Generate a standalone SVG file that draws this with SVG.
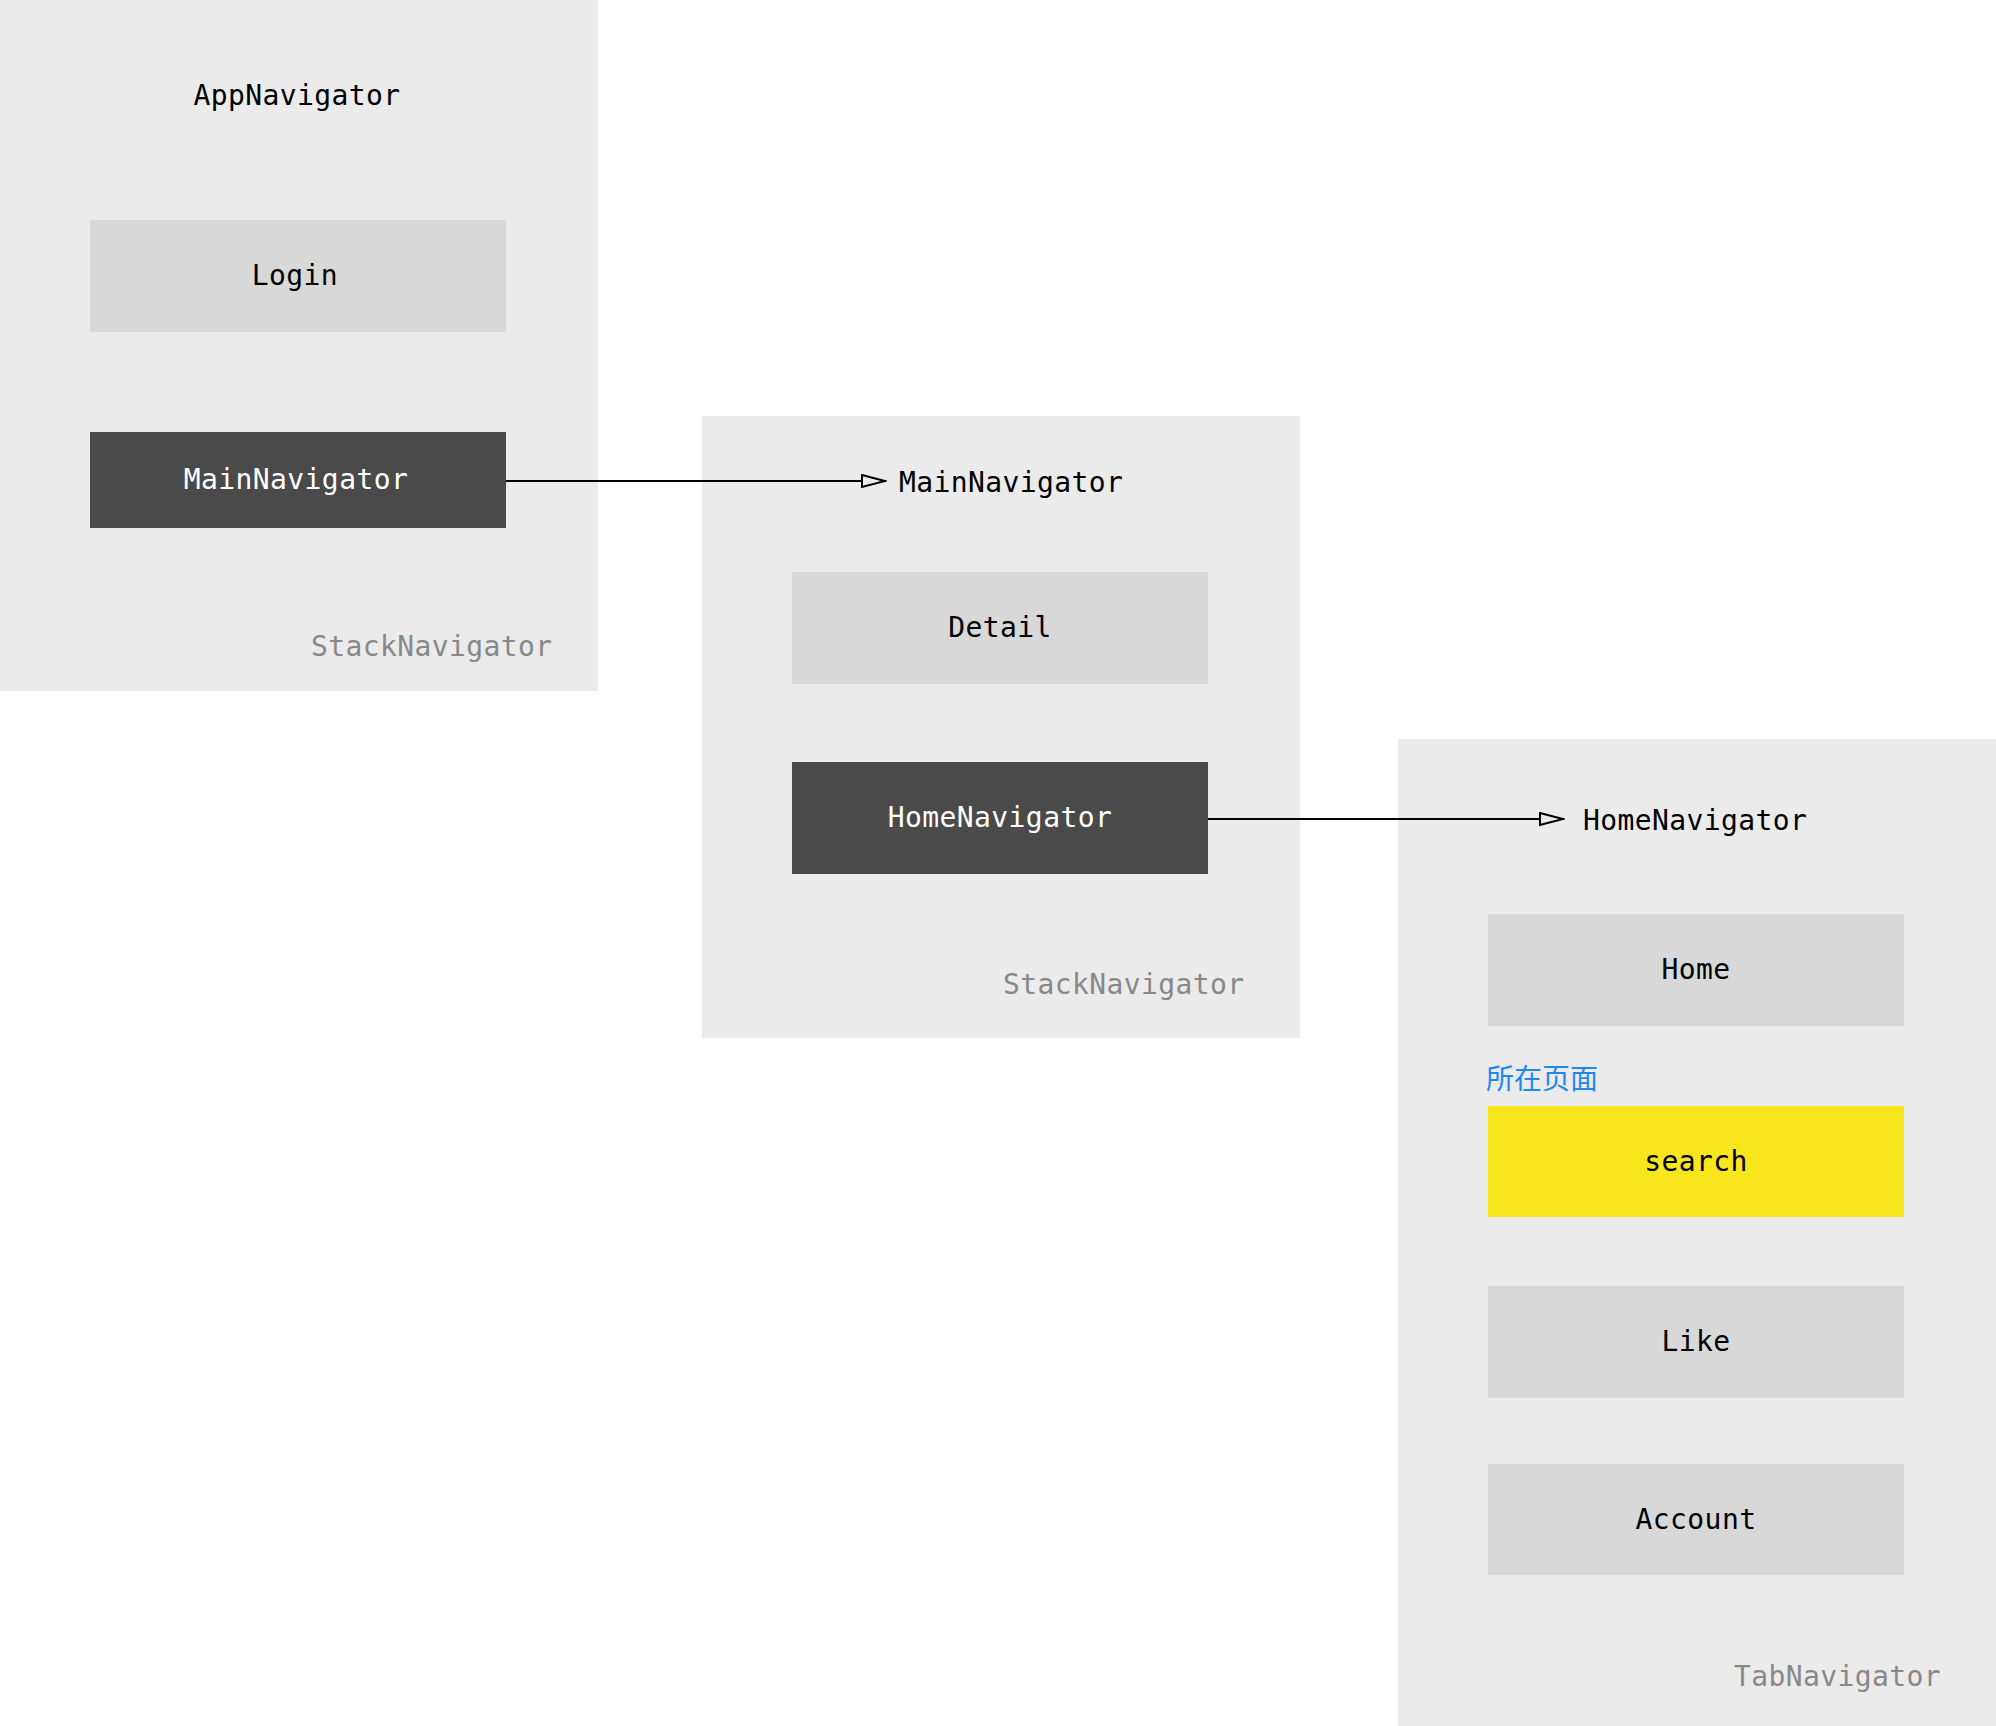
<svg xmlns="http://www.w3.org/2000/svg" width="1996" height="1726" viewBox="0 0 1996 1726">
<defs>
<style>
.panel{fill:#EBEBEB}
.box{fill:#D8D8D8}
.dark{fill:#4A4A4A}
.hl{fill:#F7E61C}
.t{font-family:"DejaVu Sans Mono","Liberation Mono",monospace;font-size:28px;letter-spacing:0.4px;fill:#000}
.w{fill:#fff}
.g{fill:#888}
.c{text-anchor:middle}
.cn{font-family:"Noto Sans CJK SC","Noto Sans",sans-serif;font-size:28px;fill:#1E88F0}
.conn{stroke:#000;stroke-width:2;fill:none}
</style>
<marker id="arr" markerUnits="userSpaceOnUse" markerWidth="26" markerHeight="16" refX="24" refY="7" orient="auto" viewBox="0 0 26 16">
<path d="M1,1 L24,7 L1,13 Z" fill="#EBEBEB" stroke="#000" stroke-width="2"/>
</marker>
</defs>
<rect width="1996" height="1726" fill="#fff"/>
<g id="appNavigator">
<rect class="panel" x="0" y="0" width="598" height="691"/>
<text class="t c" x="297" y="105">AppNavigator</text>
<text class="t g" x="311" y="656">StackNavigator</text>
</g>
<g id="login">
<rect class="box" x="90" y="220" width="416" height="112"/>
<text class="t c" x="295" y="285">Login</text>
</g>
<g id="mainNavigatorRef">
<rect class="dark" x="90" y="432" width="416" height="96"/>
<text class="t c w" x="296" y="489">MainNavigator</text>
</g>
<g id="mainNavigator">
<rect class="panel" x="702" y="416" width="598" height="622"/>
<text class="t" x="899" y="492">MainNavigator</text>
<text class="t g" x="1003" y="994">StackNavigator</text>
</g>
<g id="detail">
<rect class="box" x="792" y="572" width="416" height="112"/>
<text class="t c" x="1000" y="637">Detail</text>
</g>
<g id="homeNavigatorRef">
<rect class="dark" x="792" y="762" width="416" height="112"/>
<text class="t c w" x="1000" y="827">HomeNavigator</text>
</g>
<g id="homeNavigator">
<rect class="panel" x="1398" y="739" width="598" height="987"/>
<text class="t" x="1583" y="830">HomeNavigator</text>
<text class="t g" x="1734" y="1686">TabNavigator</text>
</g>
<g id="home">
<rect class="box" x="1488" y="914" width="416" height="112"/>
<text class="t c" x="1696" y="979">Home</text>
</g>
<g id="search">
<text class="cn" x="1486" y="1089">所在页面</text>
<rect class="hl" x="1488" y="1106" width="416" height="111"/>
<text class="t c" x="1696" y="1171">search</text>
</g>
<g id="like">
<rect class="box" x="1488" y="1286" width="416" height="112"/>
<text class="t c" x="1696" y="1351">Like</text>
</g>
<g id="account">
<rect class="box" x="1488" y="1464" width="416" height="111"/>
<text class="t c" x="1696" y="1529">Account</text>
</g>
<g id="connectors">
<line class="conn" x1="506" y1="481" x2="885" y2="481" marker-end="url(#arr)"/>
<line class="conn" x1="1208" y1="819" x2="1563" y2="819" marker-end="url(#arr)"/>
</g>
</svg>
